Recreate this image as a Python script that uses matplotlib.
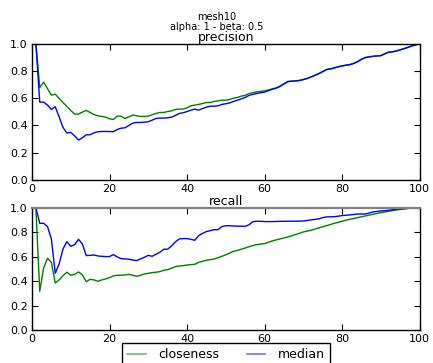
import numpy as np
import matplotlib.pyplot as plt

# top-k positions
k = np.arange(1, 101)

precision_closeness = [
    1.0, 0.678, 0.717, 0.67, 0.622, 0.629, 0.598, 0.568, 0.539, 0.51,
    0.483, 0.483, 0.498, 0.51, 0.495, 0.48, 0.471, 0.466, 0.461, 0.449,
    0.444, 0.468, 0.468, 0.451, 0.463, 0.476, 0.471, 0.466, 0.466, 0.468,
    0.478, 0.488, 0.495, 0.495, 0.502, 0.507, 0.517, 0.52, 0.52, 0.529,
    0.544, 0.549, 0.554, 0.561, 0.568, 0.568, 0.576, 0.58, 0.585, 0.585,
    0.59, 0.6, 0.605, 0.615, 0.62, 0.634, 0.64, 0.646, 0.65, 0.654,
    0.66, 0.668, 0.675, 0.688, 0.705, 0.722, 0.725, 0.727, 0.73, 0.737,
    0.745, 0.756, 0.768, 0.78, 0.795, 0.81, 0.815, 0.822, 0.83, 0.837,
    0.842, 0.846, 0.855, 0.868, 0.885, 0.898, 0.903, 0.907, 0.91, 0.912,
    0.925, 0.937, 0.94, 0.946, 0.955, 0.963, 0.973, 0.983, 0.99, 1.0,
]
precision_median = [
    1.0, 0.571, 0.571, 0.549, 0.517, 0.537, 0.463, 0.385, 0.346, 0.349,
    0.324, 0.293, 0.31, 0.332, 0.332, 0.346, 0.354, 0.356, 0.356, 0.356,
    0.354, 0.371, 0.38, 0.383, 0.4, 0.417, 0.422, 0.422, 0.424, 0.427,
    0.439, 0.451, 0.454, 0.454, 0.456, 0.461, 0.473, 0.488, 0.493, 0.502,
    0.512, 0.52, 0.512, 0.524, 0.534, 0.541, 0.541, 0.544, 0.554, 0.559,
    0.565, 0.576, 0.585, 0.595, 0.605, 0.62, 0.628, 0.634, 0.64, 0.644,
    0.655, 0.665, 0.673, 0.686, 0.704, 0.721, 0.724, 0.726, 0.729, 0.736,
    0.744, 0.755, 0.767, 0.779, 0.794, 0.809, 0.814, 0.821, 0.829, 0.836,
    0.841, 0.845, 0.854, 0.867, 0.884, 0.897, 0.902, 0.906, 0.909, 0.911,
    0.924, 0.936, 0.939, 0.945, 0.954, 0.962, 0.972, 0.982, 0.99, 1.0,
]
recall_closeness = [
    1.0, 0.316, 0.507, 0.586, 0.553, 0.384, 0.409, 0.444, 0.472, 0.447,
    0.455, 0.474, 0.45, 0.395, 0.414, 0.409, 0.398, 0.409, 0.417, 0.428,
    0.442, 0.447, 0.447, 0.45, 0.455, 0.447, 0.439, 0.447, 0.458, 0.463,
    0.469, 0.472, 0.477, 0.488, 0.493, 0.504, 0.518, 0.523, 0.526, 0.531,
    0.534, 0.537, 0.553, 0.561, 0.57, 0.575, 0.58, 0.591, 0.602, 0.615,
    0.628, 0.643, 0.65, 0.66, 0.67, 0.681, 0.69, 0.698, 0.702, 0.706,
    0.717, 0.728, 0.736, 0.744, 0.752, 0.76, 0.77, 0.78, 0.79, 0.801,
    0.808, 0.815, 0.825, 0.834, 0.843, 0.853, 0.862, 0.872, 0.88, 0.889,
    0.897, 0.905, 0.911, 0.918, 0.925, 0.932, 0.939, 0.946, 0.952, 0.959,
    0.964, 0.97, 0.975, 0.981, 0.985, 0.989, 0.993, 0.997, 0.999, 1.0,
]
recall_median = [
    1.0, 0.872, 0.872, 0.845, 0.744, 0.463, 0.54, 0.662, 0.722, 0.684,
    0.698, 0.741, 0.703, 0.608, 0.61, 0.613, 0.605, 0.602, 0.6, 0.6,
    0.616, 0.597, 0.583, 0.581, 0.578, 0.572, 0.567, 0.581, 0.594, 0.61,
    0.602, 0.619, 0.635, 0.66, 0.66, 0.687, 0.72, 0.744, 0.747, 0.747,
    0.741, 0.733, 0.771, 0.79, 0.804, 0.812, 0.82, 0.82, 0.845, 0.852,
    0.852, 0.85, 0.849, 0.848, 0.847, 0.86, 0.885, 0.889, 0.888, 0.886,
    0.886, 0.886, 0.887, 0.888, 0.889, 0.889, 0.889, 0.889, 0.89, 0.891,
    0.895, 0.9, 0.904, 0.908, 0.918, 0.924, 0.925, 0.926, 0.93, 0.935,
    0.938, 0.94, 0.944, 0.948, 0.948, 0.948, 0.956, 0.965, 0.969, 0.973,
    0.975, 0.978, 0.983, 0.987, 0.99, 0.992, 0.995, 0.997, 0.999, 1.0,
]

fig = plt.figure(figsize=(4.33, 3.63), dpi=100)
fig.suptitle('mesh10\nalpha: 1 - beta: 0.5', fontsize=7, y=0.966, va='top',
             linespacing=1.0)

ax1 = fig.add_axes([0.0739, 0.504, 0.895, 0.376])
ax2 = fig.add_axes([0.0739, 0.091, 0.895, 0.337])

for ax, title, close, med in [(ax1, 'precision', precision_closeness, precision_median),
                              (ax2, 'recall', recall_closeness, recall_median)]:
    ax.plot(k, close, color='#008000', lw=1, label='closeness')
    ax.plot(k, med, color='#0000ff', lw=1, label='median')
    ax.set_xlim(0, 100)
    ax.set_ylim(0, 1)
    ax.set_xticks(np.arange(0, 101, 20))
    ax.set_yticks(np.arange(0, 1.01, 0.2))
    ax.tick_params(direction='in', top=True, right=True, length=4, labelsize=8, pad=3)
    ax.set_title(title, fontsize=9, pad=2)
    for s in ax.spines.values():
        s.set_linewidth(1)

ax2.spines['top'].set_color('#808080')
ax2.spines['top'].set_linewidth(1.6)

# legend hangs off the bottom edge, centred under the recall axes
leg = ax2.legend(loc='upper center', bbox_to_anchor=(0.5, -0.108), ncol=2,
                 fontsize=9, fancybox=False, framealpha=1, edgecolor='black',
                 handlelength=1.5, handletextpad=1.0, columnspacing=2.2,
                 borderpad=0.4, borderaxespad=0)
for line in leg.get_lines():
    line.set_alpha(0.55)
    line.set_linewidth(1.2)

plt.savefig('out.png', dpi=100)
plt.close()
